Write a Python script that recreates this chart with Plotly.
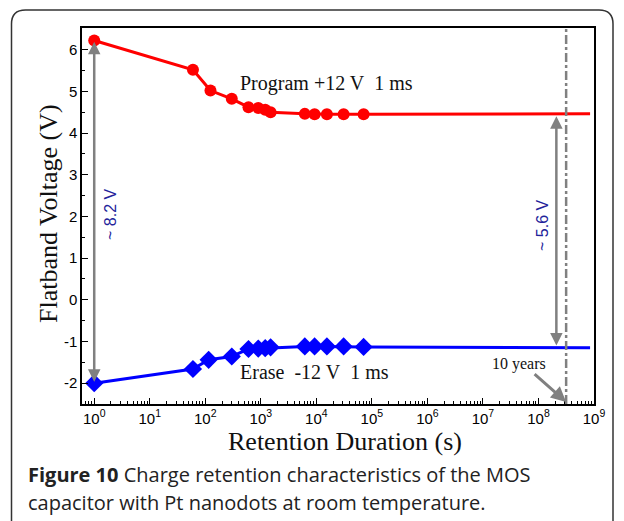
import numpy as np
import plotly.graph_objects as go

# ---------------- data ----------------
prog_t = [1, 60, 124, 300, 600, 900, 1200, 1500, 6200, 9300, 15500, 31000, 71000]
prog_v = [6.22, 5.52, 5.02, 4.82, 4.62, 4.60, 4.56, 4.50, 4.46, 4.45, 4.45, 4.45, 4.45]
erase_t = [1, 60, 115, 300, 600, 900, 1200, 1500, 6200, 9300, 15500, 31000, 71000]
erase_v = [-2.00, -1.66, -1.44, -1.36, -1.18, -1.17, -1.16, -1.14, -1.12, -1.12, -1.12, -1.12, -1.13]
extrap_t = [71000, 8.5e8]
prog_extrap_v = [4.45, 4.46]
erase_extrap_v = [-1.13, -1.15]
ten_years_s = 3.15e8
window_t = 2.1e8
window_v = [4.40, -1.13]
years_arrow_tail = (8.0e7, -1.75)
years_arrow_head = (3.15e8, -2.45)
x_tick_exp = [0, 1, 2, 3, 4, 5, 6, 7, 8, 9]
y_ticks = [-2, -1, 0, 1, 2, 3, 4, 5, 6]

W, H = 624, 521
ML, MR, MT, MB = 82, 30, 28, 117
PW, PH = W - ML - MR, H - MT - MB
YR = [-2.5, 6.52]


def px(x):
    return (x - ML) / PW


def py(y):
    return (H - MB - y) / PH


RED = "#ff0000"
BLUE = "#0000ff"
GRAY = "#808080"
NAVY = "#22229a"
SERIF = "Liberation Serif, Times New Roman, serif"
SANS = "Liberation Sans, Arial, sans-serif"

fig = go.Figure()
fig.add_trace(go.Scatter(x=extrap_t, y=prog_extrap_v, mode="lines",
                         line=dict(color=RED, width=3), showlegend=False))
fig.add_trace(go.Scatter(x=extrap_t, y=erase_extrap_v, mode="lines",
                         line=dict(color=BLUE, width=3), showlegend=False))
fig.add_trace(go.Scatter(x=prog_t, y=prog_v, mode="lines+markers",
                         line=dict(color=RED, width=3),
                         marker=dict(symbol="circle", size=12, color=RED),
                         showlegend=False))
fig.add_trace(go.Scatter(x=erase_t, y=erase_v, mode="lines+markers",
                         line=dict(color=BLUE, width=3),
                         marker=dict(symbol="diamond", size=14, color=BLUE),
                         showlegend=False))
# 10-year line
fig.add_trace(go.Scatter(x=[ten_years_s, ten_years_s], y=YR, mode="lines",
                         line=dict(color=GRAY, width=2.5, dash="dashdot"),
                         showlegend=False))

ann = []
# double arrows and the "10 years" pointer
ann.append(dict(x=np.log10(prog_t[0]), y=prog_v[0] - 0.03, ax=np.log10(erase_t[0]), ay=erase_v[0],
                xref="x", yref="y", axref="x", ayref="y", text="", showarrow=True,
                arrowhead=2, arrowside="end+start", arrowsize=1, arrowwidth=2.5, arrowcolor=GRAY))
ann.append(dict(x=np.log10(window_t), y=window_v[0], ax=np.log10(window_t), ay=window_v[1],
                xref="x", yref="y", axref="x", ayref="y", text="", showarrow=True,
                arrowhead=2, arrowside="end+start", arrowsize=1, arrowwidth=2.5, arrowcolor=GRAY))
ann.append(dict(x=np.log10(years_arrow_head[0]), y=years_arrow_head[1],
                ax=np.log10(years_arrow_tail[0]), ay=years_arrow_tail[1],
                xref="x", yref="y", axref="x", ayref="y", text="", showarrow=True,
                arrowhead=2, arrowsize=1, arrowwidth=3, arrowcolor=GRAY))


def txt(x, y, text, size, family, color="#111", angle=0, xanchor="center"):
    ann.append(dict(x=px(x), y=py(y), xref="paper", yref="paper", text=text,
                    textangle=angle, showarrow=False, xanchor=xanchor, yanchor="middle",
                    font=dict(family=family, size=size, color=color)))


txt(110, 215, "~ 8.2 V", 16, SANS, NAVY, -90)
txt(542, 226, "~ 5.6 V", 16, SANS, NAVY, -90)
txt(238, 83, "Program +12 V\u00a0\u00a01 ms", 20, SERIF, xanchor="left")
txt(238, 372, "Erase\u00a0\u00a0-12 V\u00a0\u00a01 ms", 20, SERIF, xanchor="left")
txt(519, 364, "10 years", 16, SERIF)
txt(345, 441, "Retention Duration (s)", 26, SERIF)
txt(48, 214, "Flatband Voltage (V)", 26, SERIF, angle=-90)
txt(26, 474, "<b>Figure 10</b> Charge retention characteristics of the MOS", 20,
    "Open Sans, sans-serif", "#222", xanchor="left")
txt(26, 502, "capacitor with Pt nanodots at room temperature.", 20,
    "Open Sans, sans-serif", "#222", xanchor="left")

# frame with rounded corners
x0, y0, x1, y1, r = px(11.5), py(10), px(613), py(560), 14 / PW
ry = 14 / PH
frame = (f"M {x0},{y1} L {x0},{y0 - ry} Q {x0},{y0} {x0 + r},{y0} "
         f"L {x1 - r},{y0} Q {x1},{y0} {x1},{y0 - ry} L {x1},{y1}")
shapes = [dict(type="path", xref="paper", yref="paper", path=frame,
               line=dict(color="#333", width=1.5))]

minor_vals = [k * 10 ** n for n in range(-1, 10) for k in range(2, 10)]

fig.update_layout(
    width=W, height=H, margin=dict(l=ML, r=MR, t=MT, b=MB),
    paper_bgcolor="white", plot_bgcolor="white",
    annotations=ann, shapes=shapes, showlegend=False,
    xaxis=dict(type="log", range=[-0.22, 9.0], showgrid=False, zeroline=False,
               showline=True, linecolor="black", linewidth=1.5, mirror=True,
               ticks="inside", ticklen=6, tickwidth=1.2, tickcolor="black",
               tickvals=[10 ** e for e in x_tick_exp],
               ticktext=[f"10<sup>{e}</sup>" for e in x_tick_exp],
               tickfont=dict(family=SANS, size=15, color="black"),
               minor=dict(tickvals=minor_vals, ticks="inside", ticklen=3,
                          tickwidth=1, tickcolor="black", showgrid=False)),
    yaxis=dict(range=YR, showgrid=False, zeroline=False,
               showline=True, linecolor="black", linewidth=1.5, mirror=True,
               ticks="inside", ticklen=6, tickwidth=1.2, tickcolor="black",
               tickvals=y_ticks, ticktext=[str(v) for v in y_ticks],
               tickfont=dict(family=SANS, size=15, color="black"),
               minor=dict(dtick=0.5, ticks="inside", ticklen=3, tickwidth=1,
                          tickcolor="black", showgrid=False)),
)

fig.write_html("out.html")
